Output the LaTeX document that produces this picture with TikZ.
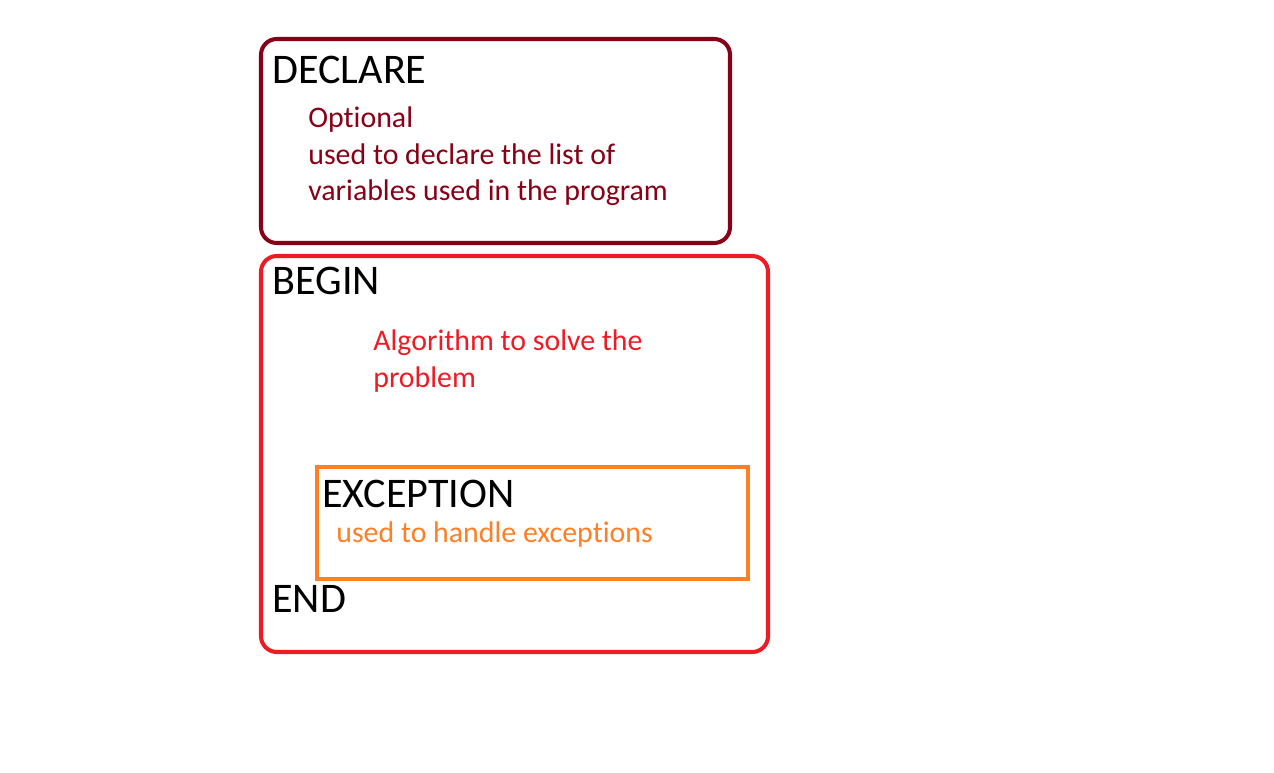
\documentclass[tikz,border=0pt]{standalone}
\usepackage{fontspec}
\setmainfont[Ligatures=NoCommon]{Carlito}
\usepackage{tikz}
\definecolor{declare}{RGB}{136, 0, 21}
\definecolor{begin}{RGB}{237, 28, 36}
\definecolor{except}{RGB}{255, 127, 39}
\tikzset{
	blockbox/.style={line width=2.3pt, rounded corners=9pt},
	keyword/.style={anchor=base west, inner sep=0pt, font=\fontsize{24}{29}\selectfont},
	remark/.style={anchor=base west, inner sep=0pt, align=left, font=\fontsize{17}{20.8}\selectfont}
}

\begin{document}
\begin{tikzpicture}[x=0.02cm, y=-0.02cm]
				\useasboundingbox (0,0) rectangle (1274,773);
				
				\draw[blockbox, color=declare] (261,39) rectangle (730,243); % declare part
				\draw[blockbox, color=begin] (261,256) rectangle (768,652); % executable part
				\draw[line width=2.3pt, color=except] (317,467) rectangle (748,579); % exception part
				
				% note: base of a multi-line remark is its last line
				\node[keyword] (declare) at (272,84) {DECLARE};
				\node[remark, text=declare] (optional) at (308,201) {Optional\\used to declare the list of\\variables used in the program};
				\node[keyword] (begin) at (272,295) {BEGIN};
				\node[remark, text=begin] (algo) at (373,387) {Algorithm to solve the\\problem};
				\node[keyword] (exception) at (322,507) {EXCEPTION};
				\node[remark, text=except] (handle) at (336,542) {used to handle exceptions};
				\node[keyword] (end) at (272,612) {END};
			
			\end{tikzpicture}
\end{document}
